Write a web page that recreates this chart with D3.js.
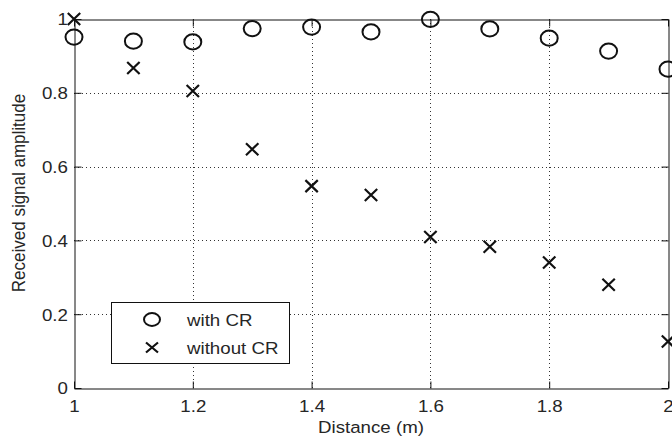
<!DOCTYPE html>
<html>

<head>
    <meta charset="utf-8">
    <script src="https://d3js.org/d3.v7.min.js"></script>
    <style>
        * {
            margin: 0;
            padding: 0;
        }

        body {
            background-color: #fff;
        }

        text {
            font-family: "Liberation Sans", Arial, sans-serif;
            font-size: 17px;
            fill: #262626;
        }
    </style>
</head>

<body>
    <div id="chart"></div>
</body>
<script>
    // distances (m)
    let distance = [1.0, 1.1, 1.2, 1.3, 1.4, 1.5, 1.6, 1.7, 1.8, 1.9, 2.0];
    let withCR = [0.951, 0.94, 0.938, 0.974, 0.978, 0.965, 0.999, 0.973, 0.948, 0.913, 0.864];
    let withoutCR = [1.0, 0.867, 0.805, 0.647, 0.547, 0.523, 0.409, 0.383, 0.340, 0.280, 0.126];
    let xTicks = [1, 1.2, 1.4, 1.6, 1.8, 2];
    let yTicks = [0, 0.2, 0.4, 0.6, 0.8, 1];
    let legendLabels = ["with CR", "without CR"];

    let W = 672, H = 440;
    let margin = { top: 19, right: 4, bottom: 52, left: 74 };
    let sx = 1.1; // text is a bit wide in the original

    let svg = d3.select("#chart").append("svg")
        .attr("width", W)
        .attr("height", H);

    let x = d3.scaleLinear()
        .domain([1, 2])
        .range([margin.left, W - margin.right]);

    let y = d3.scaleLinear()
        .domain([0, 1])
        .range([H - margin.bottom, margin.top]);

    let x0 = x.range()[0], x1 = x.range()[1];
    let y0 = y.range()[0], y1 = y.range()[1];

    // dotted grid
    let grid = svg.append("g")
        .attr("stroke", "#333")
        .attr("stroke-width", 1)
        .attr("stroke-dasharray", "1,3");

    grid.selectAll(".gx")
        .data(xTicks.slice(1, -1))
        .enter()
        .append("line")
        .attr("x1", d => Math.round(x(d)) + 0.5)
        .attr("x2", d => Math.round(x(d)) + 0.5)
        .attr("y1", y0)
        .attr("y2", y1);

    grid.selectAll(".gy")
        .data(yTicks.slice(1, -1))
        .enter()
        .append("line")
        .attr("y1", d => Math.round(y(d)) + 0.5)
        .attr("y2", d => Math.round(y(d)) + 0.5)
        .attr("x1", x0)
        .attr("x2", x1);

    // axes, ticks inward on all sides
    let tickLen = 7;
    let gx = svg.append("g")
        .attr("transform", "translate(0," + (y0 + 0.5) + ")")
        .call(d3.axisBottom(x).tickValues(xTicks).tickFormat(d3.format("")).tickSizeInner(-tickLen).tickSizeOuter(0).tickPadding(11));

    let gxTop = svg.append("g")
        .attr("transform", "translate(0," + (y1 + 0.5) + ")")
        .call(d3.axisTop(x).tickValues(xTicks).tickFormat("").tickSizeInner(-tickLen).tickSizeOuter(0));

    let gy = svg.append("g")
        .attr("transform", "translate(" + (x0 + 0.5) + ",0)")
        .call(d3.axisLeft(y).tickValues(yTicks).tickFormat(d3.format("")).tickSizeInner(-tickLen).tickSizeOuter(0).tickPadding(6));

    let gyRight = svg.append("g")
        .attr("transform", "translate(" + (x1 + 0.5) + ",0)")
        .call(d3.axisRight(y).tickValues(yTicks).tickFormat("").tickSizeInner(-tickLen).tickSizeOuter(0));

    svg.selectAll(".domain").attr("stroke", "#111");
    svg.selectAll(".tick line").attr("stroke", "#111");
    svg.selectAll(".tick text")
        .style("font-family", "'Liberation Sans', Arial, sans-serif")
        .style("font-size", "17px")
        .attr("fill", "#262626")
        .attr("transform", "scale(" + sx + ",1)");
    gy.selectAll(".tick text").attr("dy", "0.35em");

    // axis titles
    svg.append("text")
        .attr("transform", "translate(" + (x0 + x1) / 2 + ",433) scale(" + sx + ",1)")
        .attr("text-anchor", "middle")
        .text("Distance (m)");

    svg.append("text")
        .attr("transform", "translate(25,193) scale(" + sx + ",1) rotate(-90)")
        .attr("text-anchor", "middle")
        .text("Received signal amplitude");

    // markers
    let pts1 = distance.map((d, i) => ({ x: d, y: withCR[i] }));
    let pts2 = distance.map((d, i) => ({ x: d, y: withoutCR[i] }));

    let cross = (a, b) => "M" + (-a) + "," + (-b) + "L" + a + "," + b + "M" + (-a) + "," + b + "L" + a + "," + (-b);

    svg.selectAll(".c1")
        .data(pts1)
        .enter()
        .append("ellipse")
        .attr("cx", d => x(d.x))
        .attr("cy", d => y(d.y))
        .attr("rx", 8.5)
        .attr("ry", 7.6)
        .attr("fill", "none")
        .attr("stroke", "#111")
        .attr("stroke-width", 2);

    svg.selectAll(".c2")
        .data(pts2)
        .enter()
        .append("path")
        .attr("transform", d => "translate(" + x(d.x) + "," + y(d.y) + ")")
        .attr("d", cross(6.2, 6))
        .attr("fill", "none")
        .attr("stroke", "#111")
        .attr("stroke-width", 2.2);

    // legend
    let lg = svg.append("g");
    lg.append("rect")
        .attr("x", 111.5)
        .attr("y", 302.5)
        .attr("width", 178)
        .attr("height", 61)
        .attr("fill", "#fff")
        .attr("stroke", "#111");

    lg.append("ellipse")
        .attr("cx", 152)
        .attr("cy", 319.5)
        .attr("rx", 8)
        .attr("ry", 6.5)
        .attr("fill", "none")
        .attr("stroke", "#111")
        .attr("stroke-width", 2);

    lg.append("path")
        .attr("transform", "translate(152,347.5)")
        .attr("d", cross(6, 5))
        .attr("fill", "none")
        .attr("stroke", "#111")
        .attr("stroke-width", 2.2);

    lg.selectAll(".lt")
        .data(legendLabels)
        .enter()
        .append("text")
        .attr("transform", (d, i) => "translate(187," + (326 + i * 28) + ") scale(" + sx + ",1)")
        .text(d => d);
</script>

</html>
